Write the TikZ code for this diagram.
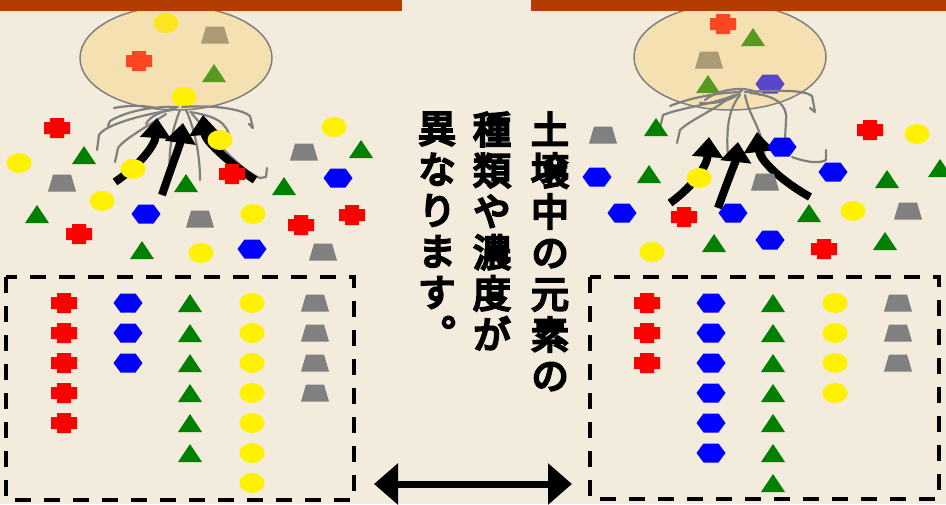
\documentclass[tikz,border=0pt]{standalone}
\usepackage{fontspec}
\usepackage{xcolor}
\usetikzlibrary{arrows.meta}
\newfontfamily\jpfont[FakeBold=6,RawFeature={+vert}]{Noto Sans CJK JP}

\definecolor{soil}{HTML}{F3EBDB}
\definecolor{band}{HTML}{B33C00}
\definecolor{zone}{HTML}{FACD64}
\definecolor{leaf}{HTML}{008000}

\tikzset{
  pics/cross/.style={code={\fill[red] (-13,-6) rectangle (13,6) (-7,-10) rectangle (7,10);}},
  pics/hexa/.style={code={\fill[blue] (-14.5,0) -- (-7.5,-9.5) -- (7.5,-9.5) -- (14.5,0) -- (7.5,9.5) -- (-7.5,9.5) -- cycle;}},
  pics/tri/.style={code={\fill[leaf] (-12,9) -- (12,9) -- (0,-9) -- cycle;}},
  pics/trap/.style={code={\fill[gray] (-14,8.5) -- (14,8.5) -- (9,-8.5) -- (-9,-8.5) -- cycle;}},
  pics/dot/.style={code={\fill[yellow] (0,0) ellipse [x radius=12.5, y radius=10];}},
  root/.style={gray, line width=2.2pt, line cap=round, line join=round},
  uptake/.style={line width=8pt, -{Triangle[length=20pt,width=30pt]}},
  colbox/.style={line width=4pt, dash pattern=on 16pt off 13pt},
  coltext/.style={font=\jpfont\fontsize{38}{41}\selectfont, align=center, inner sep=0pt, anchor=north}
}

\begin{document}
\begin{tikzpicture}[x=1pt,y=-1pt]
  \useasboundingbox (0,0) rectangle (946,504);
  \fill[soil] (0,0) rectangle (946,504);

  % what the roots already hold
  \pic at (166,23) {dot};  \pic at (215,35) {trap};
  \pic at (139,61) {cross};  \pic at (214,73) {tri};
  \pic at (723,24) {cross};  \pic at (753,37) {tri};
  \pic at (709,60) {trap};  \pic at (708,84) {tri};  \pic at (770,84) {hexa};
  \draw[gray, line width=1.5pt, fill=zone, fill opacity=0.35] (176,58) ellipse [x radius=96, y radius=52];
  \draw[gray, line width=1.5pt, fill=zone, fill opacity=0.35] (730,57) ellipse [x radius=96, y radius=53];
  \pic at (184,97) {dot};

  \fill[band] (0,0) rectangle (402,11);
  \fill[band] (531,0) rectangle (946,11);

  % roots, left
  \draw[root] (178,107) .. controls (150,106) and (125,112) .. (110,121) -- (108,126);
  \draw[root] (172,110) .. controls (140,115) and (105,125) .. (99,135) -- (97,150);
  \draw[root] (166,114) .. controls (150,125) and (125,138) .. (118,148) -- (115,162);
  \draw[root] (180,110) .. controls (172,130) and (168,150) .. (170,180);
  \draw[root] (186,110) .. controls (195,130) and (200,155) .. (200,180);
  \draw[root] (182,107) .. controls (210,105) and (240,108) .. (250,116) -- (253,128) -- (249,124);
  \draw[root] (190,112) .. controls (215,116) and (228,122) .. (230,140);
  \draw[root] (192,114) .. controls (215,140) and (240,170) .. (260,178) -- (266,177) -- (267,168);
  \draw[root] (176,108) .. controls (160,112) and (150,116) .. (146,124);
  \draw[root] (160,109) .. controls (140,104) and (125,106) .. (114,108);
  % roots, right
  \draw[root] (740,92) .. controls (715,93) and (690,98) .. (670,106);
  \draw[root] (735,95) .. controls (710,105) and (680,108) .. (663,115) -- (660,128);
  \draw[root] (730,97) .. controls (715,110) and (690,120) .. (680,130) -- (677,143);
  \draw[root] (740,95) .. controls (728,110) and (726,130) .. (728,158);
  \draw[root] (745,95) .. controls (750,120) and (762,125) .. (765,160);
  \draw[root] (750,93) .. controls (775,95) and (788,105) .. (786,120) -- (785,140);
  \draw[root] (745,92) .. controls (780,90) and (805,90) .. (812,96) -- (815,112) -- (810,108);
  \draw[root] (792,157) .. controls (805,162) and (820,164) .. (826,160) -- (826,150);
  \draw[root] (760,95) .. controls (750,85) and (720,88) .. (705,100);
  \draw[root] (742,90) .. controls (735,100) and (718,104) .. (700,103);

  % uptake
  \draw[uptake] (115,182) .. controls (140,165) and (155,145) .. (157,118);
  \draw[uptake] (162,195) .. controls (172,165) and (180,145) .. (183,123);
  \draw[uptake] (255,180) .. controls (225,160) and (205,140) .. (203,115);
  \draw[uptake] (670,203) .. controls (695,185) and (707,165) .. (709,137);
  \draw[uptake] (718,208) .. controls (728,180) and (736,160) .. (738,142);
  \draw[uptake] (810,197) .. controls (780,180) and (760,160) .. (757,132);

  % loose elements in the soil
  \foreach \px/\py in {57/128,232/174,301/225,352/215,79/234,870/130,684/217,824/249}
    \pic at (\px,\py) {cross};
  \foreach \px/\py in {334/127,19/163,220/140,133/169,102/201,253/214,201/253,917/134,699/178,853/211,652/252}
    \pic at (\px,\py) {dot};
  \foreach \px/\py in {84/155,361/149,186/183,284/186,37/214,142/250,656/127,649/174,887/179,940/168,809/213,714/243,885/241}
    \pic at (\px,\py) {tri};
  \foreach \px/\py in {304/152,62/183,200/219,323/252,603/135,765/182,908/211}
    \pic at (\px,\py) {trap};
  \foreach \px/\py in {338/178,146/214,252/249,782/147,597/177,833/172,622/213,733/213,770/240}
    \pic at (\px,\py) {hexa};

  % counts
  \draw[colbox] (6,277) rectangle (354,500);
  \foreach \n in {0,...,4} \pic at (64,{303+30*\n}) {cross};
  \foreach \n in {0,...,2} \pic at (128,{303+30*\n}) {hexa};
  \foreach \n in {0,...,5} \pic at (190,{303+30*\n}) {tri};
  \foreach \n in {0,...,6} \pic at (252,{303+30*\n}) {dot};
  \foreach \n in {0,...,3} \pic at (315,{303+30*\n}) {trap};

  \draw[colbox] (590,277) rectangle (939,499);
  \foreach \n in {0,...,2} \pic at (647,{303+30*\n}) {cross};
  \foreach \n in {0,...,5} \pic at (711,{303+30*\n}) {hexa};
  \foreach \n in {0,...,6} \pic at (773,{303+30*\n}) {tri};
  \foreach \n in {0,...,3} \pic at (835,{303+30*\n}) {dot};
  \foreach \n in {0,...,2} \pic at (898,{303+30*\n}) {trap};

  \node[coltext] (col1) at (550,112) {土\\壌\\中\\の\\元\\素\\の};
  \node[coltext] (col2) at (492,112) {種\\類\\や\\濃\\度\\が};
  \node[coltext] (col3) at (437,112) {異\\な\\り\\ま\\す\\。};

  \coordinate (diffL) at (374,484);
  \coordinate (diffR) at (572,484);
  \draw[line width=7pt, {Triangle[length=24pt,width=40pt]}-{Triangle[length=24pt,width=40pt]}] (diffL) -- (diffR);
\end{tikzpicture}
\end{document}
